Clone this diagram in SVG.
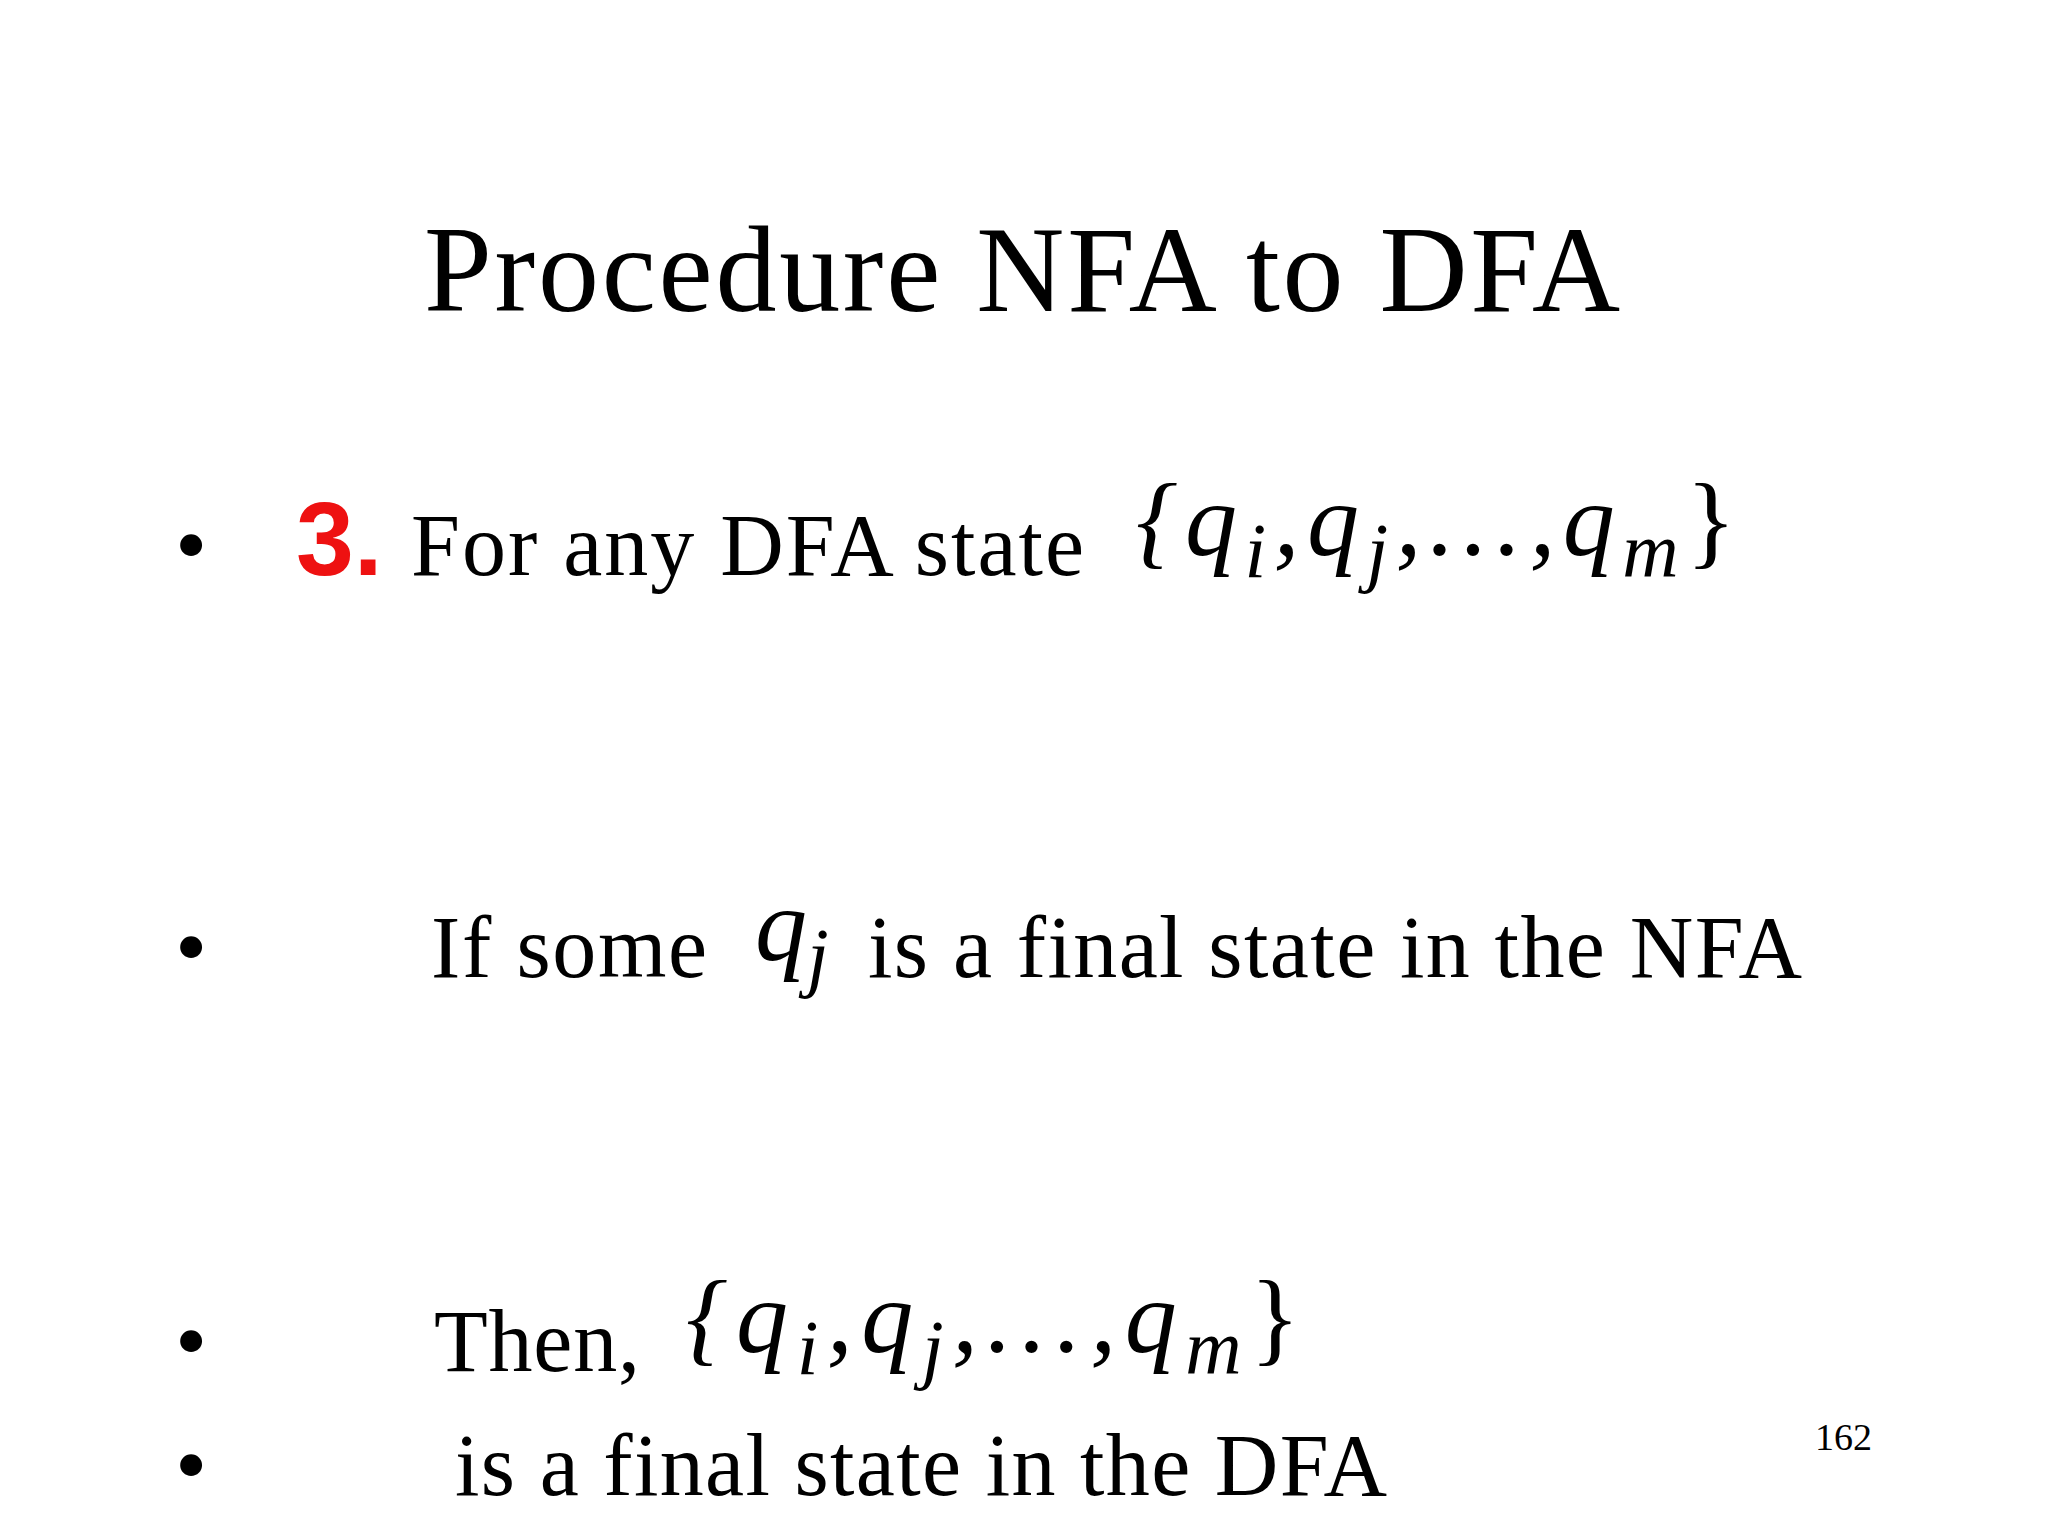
<svg xmlns="http://www.w3.org/2000/svg" width="2048" height="1536" viewBox="0 0 2048 1536">
<style>
.t{font-family:"Liberation Serif",serif;fill:#000}
.m{font-family:"Liberation Serif",serif;font-style:italic;fill:#000}
.b{font-family:"Liberation Serif",serif;fill:#000;font-size:92px}
</style>
<rect width="2048" height="1536" fill="#fff"/>
<g id="title"><text class="t" x="424" y="311" font-size="122" textLength="1196">Procedure NFA to DFA</text></g>
<g id="line1">
<text class="b" x="175" y="575">•</text>
<text x="296" y="575" font-family="Liberation Sans,sans-serif" font-weight="bold" font-size="104" fill="#ee1111">3.</text>
<text class="t" x="411" y="575" font-size="88" textLength="673">For any DFA state</text>
<text class="m" x="1136" y="555" font-size="104" textLength="600" lengthAdjust="spacing">{q<tspan font-size="78" dy="22">i</tspan><tspan dy="-22">,q</tspan><tspan font-size="78" dy="22">j</tspan><tspan dy="-22">,...,q</tspan><tspan font-size="78" dy="22">m</tspan><tspan dy="-22" font-style="normal">}</tspan></text>
</g>
<g id="line2">
<text class="b" x="175" y="977">•</text>
<text class="t" x="431" y="977" font-size="88" textLength="276">If some</text>
<text class="m" x="755" y="960" font-size="104">q<tspan font-size="78" dy="22">j</tspan></text>
<text class="t" x="868" y="977" font-size="88" textLength="934">is a final state in the NFA</text>
</g>
<g id="line3">
<text class="b" x="175" y="1371">•</text>
<text class="t" x="434" y="1371" font-size="88" textLength="206">Then,</text>
<text class="m" x="686" y="1352" font-size="104" textLength="614" lengthAdjust="spacing">{q<tspan font-size="78" dy="22">i</tspan><tspan dy="-22">,q</tspan><tspan font-size="78" dy="22">j</tspan><tspan dy="-22">,...,q</tspan><tspan font-size="78" dy="22">m</tspan><tspan dy="-22" font-style="normal">}</tspan></text>
</g>
<g id="line4">
<text class="b" x="175" y="1495">•</text>
<text class="t" x="455" y="1495" font-size="88" textLength="932">is a final state in the DFA</text>
</g>
<g id="page"><text class="t" x="1815" y="1450" font-size="38">162</text></g>
</svg>
